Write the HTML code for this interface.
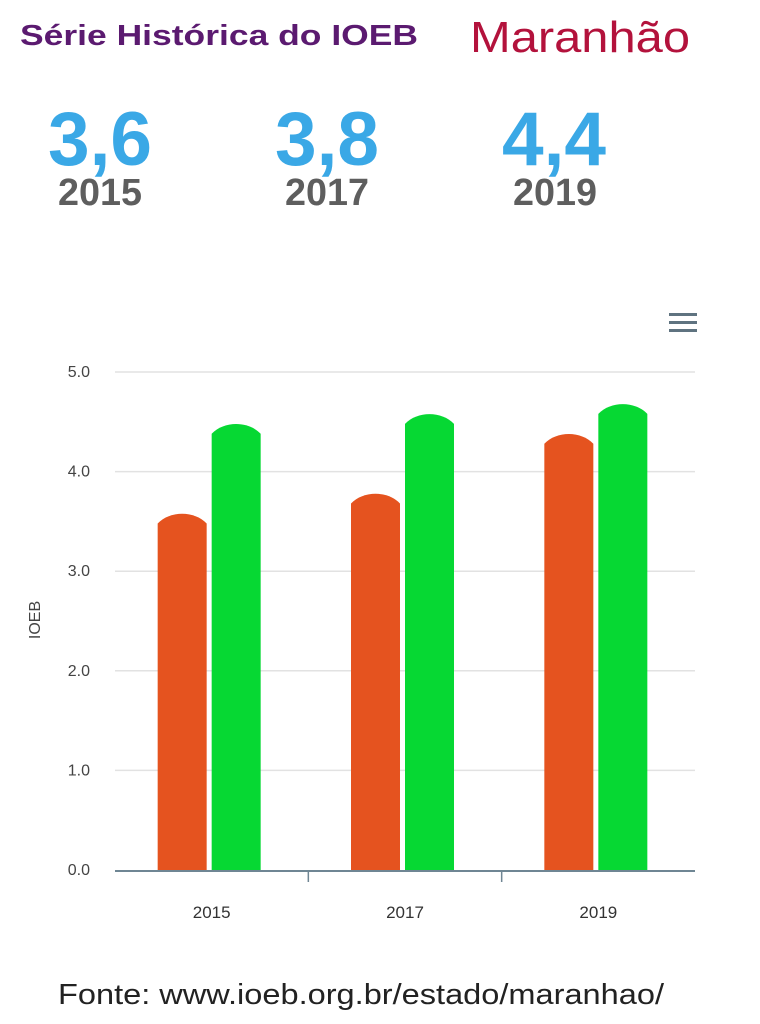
<!DOCTYPE html>
<html><head><meta charset="utf-8"><style>
html,body{margin:0;padding:0;background:#fff;}
svg{display:block;}
</style></head><body>
<svg id="page" width="760" height="1024" viewBox="0 0 760 1024" xmlns="http://www.w3.org/2000/svg" font-family="Liberation Sans, sans-serif">
<text x="20" y="45" font-size="29" font-weight="bold" fill="#5b1a70" textLength="398" lengthAdjust="spacingAndGlyphs">Série Histórica do IOEB</text>
<text x="470" y="52" font-size="44" fill="#b3123c" textLength="220" lengthAdjust="spacingAndGlyphs">Maranhão</text>
<g>
<text x="48" y="165" font-size="76" font-weight="bold" fill="#3aa8e6" textLength="104" lengthAdjust="spacingAndGlyphs">3,6</text>
<text x="58" y="205" font-size="38" font-weight="bold" fill="#5e5e5e" textLength="84" lengthAdjust="spacingAndGlyphs">2015</text>
</g>
<g>
<text x="275" y="165" font-size="76" font-weight="bold" fill="#3aa8e6" textLength="104" lengthAdjust="spacingAndGlyphs">3,8</text>
<text x="285" y="205" font-size="38" font-weight="bold" fill="#5e5e5e" textLength="84" lengthAdjust="spacingAndGlyphs">2017</text>
</g>
<g>
<text x="502" y="165" font-size="76" font-weight="bold" fill="#3aa8e6" textLength="104" lengthAdjust="spacingAndGlyphs">4,4</text>
<text x="513" y="205" font-size="38" font-weight="bold" fill="#5e5e5e" textLength="84" lengthAdjust="spacingAndGlyphs">2019</text>
</g>
<g fill="#5f7380">
<rect x="669" y="313" width="28" height="3"/><rect x="669" y="321" width="28" height="3"/><rect x="669" y="329" width="28" height="3"/>
</g>
<g id="grid"></g>
<g id="bars"></g>
<g id="axes"></g>
<text transform="translate(40,620) rotate(-90)" text-anchor="middle" font-size="16" fill="#444">IOEB</text>
<text x="58" y="1004" font-size="29" fill="#222" textLength="606" lengthAdjust="spacingAndGlyphs">Fonte: www.ioeb.org.br/estado/maranhao/</text>
</svg>
<script>
const categories = ['2015','2017','2019'];
const seriesA = [3.6, 3.8, 4.4];
const seriesB = [4.5, 4.6, 4.7];
const yTicks = [0,1,2,3,4,5];
const yTickLabels = ['0.0','1.0','2.0','3.0','4.0','5.0'];

const NS='http://www.w3.org/2000/svg';
const x0=115, x1=695, y0=870, y1=372, yMax=5;
const bandW=(x1-x0)/categories.length;
function yS(v){return y0-(v/yMax)*(y0-y1);}
function xBand(i){return x0+i*bandW;}
function mk(tag,attrs,parent){const e=document.createElementNS(NS,tag);for(const k in attrs)e.setAttribute(k,attrs[k]);parent.appendChild(e);return e;}
const grid=document.getElementById('grid'), bars=document.getElementById('bars'), axes=document.getElementById('axes');
yTicks.forEach((t,i)=>{
  const y=yS(t);
  if(t>0){const l=mk('line',{x1:x0,x2:x1,y1:y,y2:y,stroke:'#e2e2e2','stroke-width':1.5},grid);
  
  }
  const tx=mk('text',{x:90,y:y+5,'text-anchor':'end','font-size':16,fill:'#444'},axes);
  tx.textContent=yTickLabels[i];
  
  
});
const ax=mk('line',{x1:x0,x2:x1,y1:y0+1,y2:y0+1,stroke:'#6f8694','stroke-width':2},axes);


function barPath(x,w,v){
  const top=yS(v), cap=12;
  return `M${x},${y0} L${x},${top+cap} C${x+w*0.25},${top-1} ${x+w*0.75},${top-1} ${x+w},${top+cap} L${x+w},${y0} Z`;
}
categories.forEach((c,i)=>{
  const bx=xBand(i);
  if(i>0){const tk=mk('line',{x1:bx,x2:bx,y1:y0,y2:y0+12,stroke:'#6f8694','stroke-width':1.5},axes);
  
  }
  const cx=bx+bandW/2;
  const a=mk('path',{d:barPath(cx-54,49,seriesA[i]),fill:'#e5531f'},bars);
  
  
  const b=mk('path',{d:barPath(cx,49,seriesB[i]),fill:'#06d833'},bars);
  
  
  const t=mk('text',{x:cx,y:918,'text-anchor':'middle','font-size':17,fill:'#333'},axes);
  t.textContent=c;
  
  
});
</script>
</body></html>
